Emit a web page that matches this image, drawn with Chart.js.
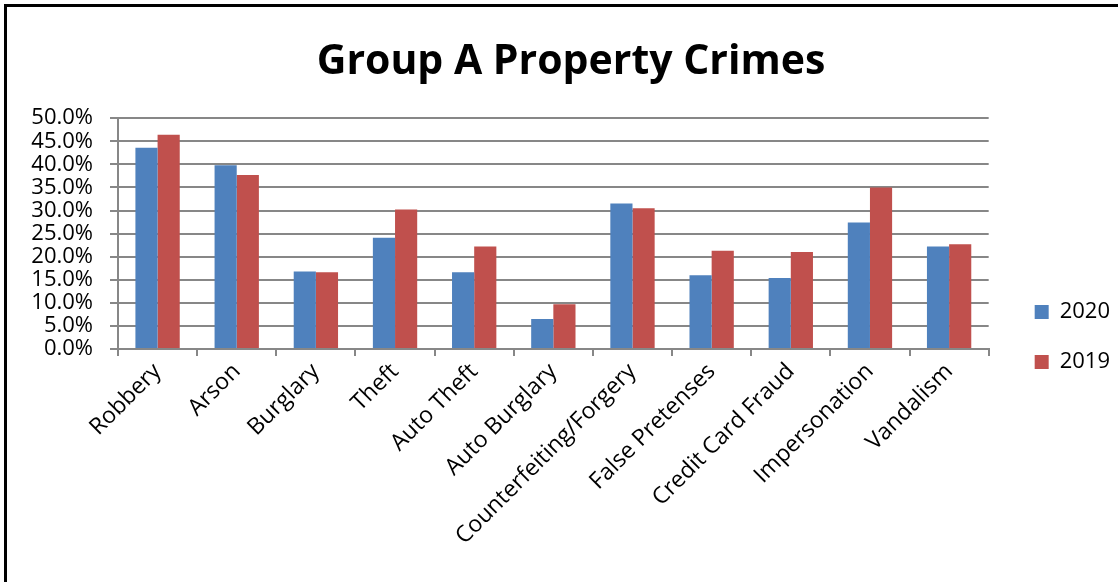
<!DOCTYPE html>
<html>
<head>
    <title>Group A Property Crimes</title>
    <style>
        body{
            margin:0;
            background:#fff;
        }
        .frame{
            position:absolute;
            left:4px;
            top:4px;
            width:1200px;
            height:700px;
            border-top:3px solid #000;
            border-left:3px solid #000;
        }
        .box{
            position:absolute;
            left:0;
            top:0;
            width:1118px;
            height:582px;
        }
    </style>
</head>
<body>
<div class="box"><canvas id="crimes" width="1118" height="582"></canvas></div>
<div class="frame"></div>

<script src="https://cdn.jsdelivr.net/npm/chart.js@4.4.1/dist/chart.umd.min.js"></script>
<script>
    const categories = ["Robbery", "Arson", "Burglary", "Theft", "Auto Theft", "Auto Burglary",
        "Counterfeiting/Forgery", "False Pretenses", "Credit Card Fraud", "Impersonation", "Vandalism"];
    const values2020 = [43.6, 39.8, 16.8, 24.1, 16.6, 6.5, 31.5, 16.0, 15.4, 27.4, 22.2];
    const values2019 = [46.4, 37.7, 16.6, 30.2, 22.2, 9.7, 30.5, 21.3, 21.0, 35.0, 22.7];
    const yMin = 0;
    const yMax = 50;
    const yStep = 5;

    const font = "Open Sans";
    const gridColor = "#878787";

    new Chart("crimes", {
        type: "bar",
        data: {
            labels: categories,
            datasets: [{
                label: "2020",
                data: values2020,
                backgroundColor: "#4F81BD",
                categoryPercentage: 0.56,
                barPercentage: 1
            }, {
                label: "2019",
                data: values2019,
                backgroundColor: "#C0504D",
                categoryPercentage: 0.56,
                barPercentage: 1
            }]
        },
        options: {
            responsive: false,
            animation: false,
            // left padding moves the title centre a little to the right
            layout: {padding: {left: 22, right: -2, top: 0, bottom: 0}},
            plugins: {
                title: {
                    display: true,
                    text: "Group A Property Crimes",
                    color: "#000",
                    font: {family: font, size: 41, weight: "bold"},
                    padding: {top: 38, bottom: 31}
                },
                legend: {
                    position: "right",
                    // empty title only pushes the two entries down
                    title: {display: true, text: " ", font: {size: 10}, padding: {top: 40, bottom: 40}},
                    labels: {
                        color: "#000",
                        font: {family: font, size: 22},
                        boxWidth: 14,
                        boxHeight: 14,
                        padding: 28
                    }
                },
                tooltip: {enabled: false}
            },
            scales: {
                x: {
                    grid: {display: true, drawOnChartArea: false, offset: true, color: gridColor, lineWidth: 2, tickLength: 7},
                    border: {color: gridColor, width: 2},
                    ticks: {color: "#000", font: {family: font, size: 23}, minRotation: 45, maxRotation: 45, padding: 2},
                    afterFit: function (s) { s.height = 233; }
                },
                y: {
                    min: yMin,
                    max: yMax,
                    grid: {color: gridColor, lineWidth: 2, tickLength: 8},
                    border: {color: gridColor, width: 2},
                    ticks: {
                        stepSize: yStep,
                        autoSkip: false,
                        color: "#000",
                        font: {family: font, size: 22},
                        padding: 17,
                        callback: function (v) { return v.toFixed(1) + "%"; }
                    },
                    afterFit: function (s) { s.width = 96; }
                },
                // empty strip between the plot and the legend
                gap: {
                    position: "right",
                    grid: {display: false},
                    border: {display: false},
                    ticks: {display: false},
                    afterFit: function (s) { s.width = 18; }
                }
            }
        }
    });
</script>
</body>
</html>
